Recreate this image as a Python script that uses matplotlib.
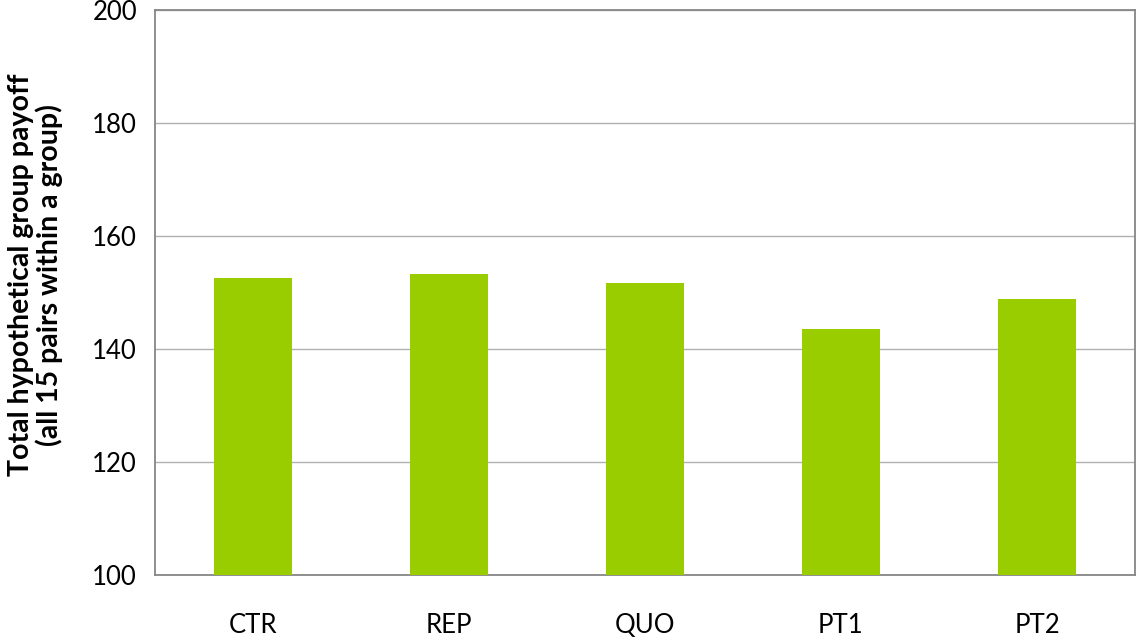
import matplotlib
matplotlib.use("Agg")
import matplotlib.pyplot as plt

# данные для графика
categories = ["CTR", "REP", "QUO", "PT1", "PT2"]
payoff = [152.6, 153.3, 151.7, 143.6, 148.9]
yticks = [100, 120, 140, 160, 180, 200]

plt.rcParams['font.family'] = ['Lato', 'DejaVu Sans']

fig = plt.figure(figsize=(11.36, 6.38), dpi=100)
ax = fig.add_axes([0.1364, 0.0983, 0.8627, 0.8856])

ax.bar(categories, payoff, width=0.4, color='#9acd00', zorder=3)

ax.set_ylim(100, 200)
ax.set_xlim(-0.5, len(categories) - 0.5)
ax.set_yticks(yticks)
ax.grid(axis='y', color='#b0b0b0', linewidth=1, zorder=0)
ax.tick_params(axis='both', length=0, labelsize=18.5)
ax.tick_params(axis='x', pad=27)
ax.tick_params(axis='y', pad=13)

for s in ax.spines.values():
    s.set_color('#868686')
    s.set_linewidth(1.3)

fig.text(0.031, 0.569, "Total hypothetical group payoff\n(all 15 pairs within a group)",
         rotation=90, ha='center', va='center', fontsize=20.5, fontweight='bold',
         linespacing=1.05)

fig.savefig("out.png", dpi=100)
